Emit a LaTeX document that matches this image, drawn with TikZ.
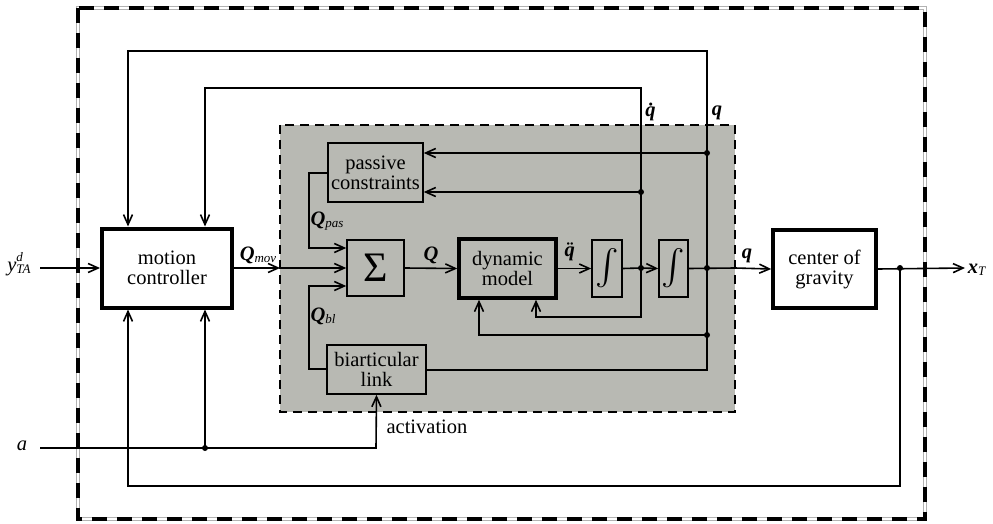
\documentclass[tikz,border=0pt]{standalone}
\usepackage{fontspec}
\usepackage{graphicx}
\setmainfont{Liberation Serif}
\usetikzlibrary{arrows.meta}
\definecolor{zone}{RGB}{184,185,179}
\newcommand{\bqq}{\textbf{\textit{q}}}
\newcommand{\bqdot}{\textbf{\textit{\.{q}}}}
\newcommand{\bqddot}{\textbf{\textit{\"{q}}}}
\newcommand{\subtxt}[1]{\raisebox{-0.25ex}{\fontsize{13}{13}\selectfont\textit{#1}}}
\newcommand{\integ}{\resizebox{!}{38pt}{$\int$}}
\begin{document}
\begin{tikzpicture}[x=1pt,y=-1pt,
  every node/.style={font=\fontsize{20.5}{20}\selectfont, inner sep=0pt},
  blk/.style={draw, line width=1.6pt, align=center},
  bigblk/.style={draw, line width=4pt, align=center, fill=white},
  arr/.style={-{Straight Barb[length=10pt,width=9pt]}},
  sig/.style={line width=1.6pt},
  dot/.style={circle, fill=black, minimum size=6pt, inner sep=0pt}]
\useasboundingbox (0,0) rectangle (993,524);
% outer frame
\draw[gray!60, line width=4.5pt] (78,8) rectangle (925,519);
\draw[white, line width=2.5pt] (78,8) rectangle (925,519);
\draw[black, line width=4.5pt, dash pattern=on 15pt off 10pt] (78,8) rectangle (925,519);
% gray zone
\fill[zone] (280,125) rectangle (735,412);
\draw[line width=2pt, dash pattern=on 9pt off 6pt] (280,125) rectangle (735,412);
% blocks
\node[bigblk, minimum width=130pt, minimum height=79pt] (mc) at (167,268) {motion\\controller};
\node[bigblk, line width=3.5pt, minimum width=103pt, minimum height=78pt] (cg) at (824.5,269) {center of\\gravity};
\node[blk, minimum width=57pt, minimum height=56pt, font=\fontsize{42}{42}\selectfont] (sg) at (375.5,268) {Σ};
\node[blk, line width=3.5pt, minimum width=97pt, minimum height=59pt] (dm) at (507.5,268.5) {dynamic\\model};
\node[blk, minimum width=30pt, minimum height=57pt] (i1) at (607,268.5) {\integ};
\node[blk, minimum width=29pt, minimum height=57pt] (i2) at (673.5,268.5) {\integ};
\node[blk, minimum width=95pt, minimum height=59pt] (pc) at (375.5,172.5) {passive\\constraints};
\node[blk, minimum width=99pt, minimum height=49pt] (bl) at (376.5,369.5) {biarticular\\link};
% coordinates
\coordinate (yin) at (40,268);
\coordinate (ain) at (40,448);
\coordinate (gin) at (280,268);
\coordinate (gout) at (735,268);
\coordinate (xout) at (965,268);
\node[dot] (d1) at (641,268) {};
\node[dot] (d2) at (707,268) {};
\node[dot] (d3) at (900,268) {};
\node[dot] (d4) at (205,448) {};
\node[dot] (d5) at (707,153) {};
\node[dot] (d6) at (641,192) {};
\node[dot] (d7) at (707,335) {};
% main chain
\draw[sig, arr] (yin) -- (mc.west);
\draw[sig, arr] (mc.east) -- (gin);
\draw[sig, arr] (gin) -- (sg.west);
\draw[sig, arr] (sg.east) -- (dm.west);
\draw[sig, arr] (dm.east) -- (i1.west);
\draw[sig] (i1.east) -- (d1.center);
\draw[sig, arr] (d1.center) -- (i2.west);
\draw[sig] (i2.east) -- (gout);
\draw[sig, arr] (gout) -- (cg.west);
\draw[sig, arr] (cg.east) -- (xout);
% outer feedback from x_T
\draw[sig, arr] (d3.center) -- (900,486) -- (128,486) -- (mc.south -| 128,0);
% activation input
\draw[sig, arr] (ain) -- (376,448) -- (bl.south);
\draw[sig, arr] (d4.center) -- (mc.south -| d4);
% q and qdot loops to controller
\draw[sig, arr] (d2.center) -- (707,51) -- (128,51) -- (mc.north -| 128,0);
\draw[sig, arr] (d1.center) -- (641,88) -- (205,88) -- (mc.north -| 205,0);
% q line down to biarticular link
\draw[sig] (d2.center) -- (707,370) -- (bl.east |- 0,370);
% passive constraints inputs
\draw[sig, arr] (d5.center) -- (pc.east |- d5);
\draw[sig, arr] (d6.center) -- (pc.east |- d6);
% passive constraints and biarticular outputs into sum
\draw[sig, arr] (pc.west |- 0,173) -- (309,173) -- (309,248) -- (sg.west |- 0,248);
\draw[sig, arr] (bl.west |- 0,369) -- (309,369) -- (309,286) -- (sg.west |- 0,286);
% feedbacks into dynamic model
\draw[sig, arr] (d7.center) -- (479,335) -- (dm.south -| 479,0);
\draw[sig, arr] (d1.center) -- (641,317) -- (536,317) -- (dm.south -| 536,0);
% labels
\node at (258,255) {\textbf{\textit{Q}}\subtxt{mov}};
\node at (431,255) {\textbf{\textit{Q}}};
\node at (572,252) {\bqddot};
\node at (747,256) {\bqq};
\node at (652,112) {\bqdot};
\node at (717,113) {\bqq};
\node at (327,221) {\textbf{\textit{Q}}\subtxt{pas}};
\node at (323,316) {\textbf{\textit{Q}}\subtxt{bl}};
\node at (427,427) {activation};
\node at (22,446) {\textit{a}};
\node at (19,264) {\textit{y}\rlap{\raisebox{1.1ex}{\fontsize{13}{13}\selectfont\textit{d}}}\subtxt{TA}};
\node at (977,270) {\textbf{\textit{x}}\subtxt{T}};
\end{tikzpicture}
\end{document}
